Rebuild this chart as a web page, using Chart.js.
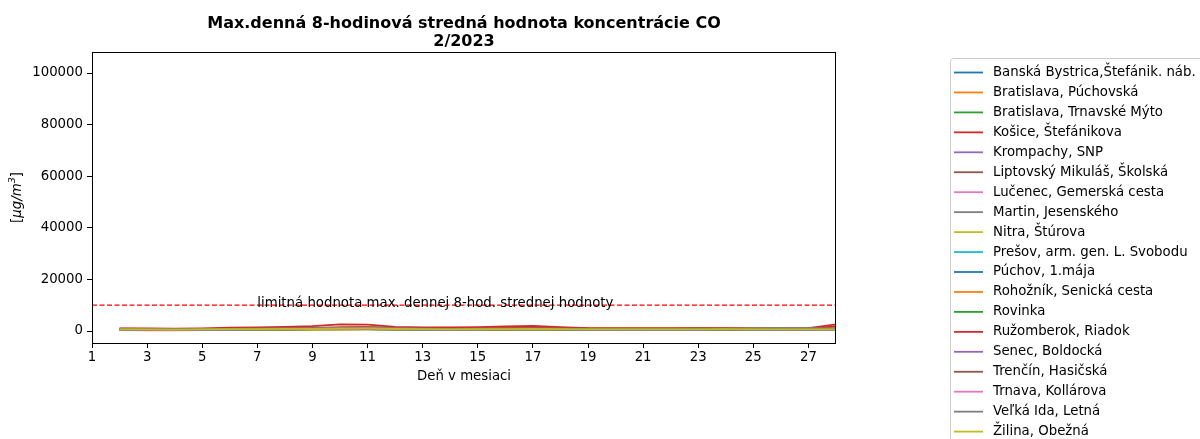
<!DOCTYPE html>
<html><head><meta charset="utf-8">
<script src="https://cdn.jsdelivr.net/npm/chart.js@4.4.1/dist/chart.umd.min.js"></script>
<style>html,body{margin:0;padding:0;background:#fff;overflow:hidden}canvas{display:block}</style>
</head><body><canvas id="c" width="1200" height="439"></canvas>
<script>
const days = [2,3,4,5,6,7,8,9,10,11,12,13,14,15,16,17,18,19,20,21,22,23,24,25,26,27,28];
const stations = [
  "Banská Bystrica,Štefánik. náb.","Bratislava, Púchovská","Bratislava, Trnavské Mýto","Košice, Štefánikova",
  "Krompachy, SNP","Liptovský Mikuláš, Školská","Lučenec, Gemerská cesta","Martin, Jesenského",
  "Nitra, Štúrova","Prešov, arm. gen. L. Svobodu","Púchov, 1.mája","Rohožník, Senická cesta",
  "Rovinka","Ružomberok, Riadok","Senec, Boldocká","Trenčín, Hasičská","Trnava, Kollárova",
  "Veľká Ida, Letná","Žilina, Obežná"];
const colors = ["#1f77b4","#ff7f0e","#2ca02c","#d62728","#9467bd","#8c564b","#e377c2","#7f7f7f","#bcbd22","#17becf",
  "#1f77b4","#ff7f0e","#2ca02c","#d62728","#9467bd","#8c564b","#e377c2","#7f7f7f","#bcbd22"];

const banskaBystrica = [700,650,600,650,700,750,800,850,900,950,850,700,650,600,650,700,750,650,600,600,650,650,700,650,600,650,700];
const bratislavaPuchovska = [800,750,700,750,900,1000,1100,1200,1300,1400,1200,1000,1000,1100,1200,1300,1250,1100,1100,1100,1150,1200,1200,1100,1000,900,1000];
const bratislavaTrnavske = [500,450,400,450,500,550,600,650,700,750,600,500,500,550,600,650,600,500,500,500,550,550,600,550,500,450,500];
const kosice = [1000,1050,900,1000,1300,1400,1600,1900,2600,2500,1600,1400,1400,1500,1800,1950,1500,1100,1000,1000,1050,1100,1000,900,900,1100,2600];
const krompachy = [600,550,500,550,600,650,700,750,800,850,700,600,600,650,650,700,650,600,550,550,600,600,650,600,550,550,600];
const liptovskyMikulas = [700,650,600,700,800,900,1000,1100,1300,1400,1100,900,800,800,900,1000,900,800,700,700,750,800,800,750,700,700,800];
const lucenec = [500,450,450,500,550,600,650,700,750,800,650,550,550,600,650,700,650,550,500,500,550,550,600,550,500,500,550];
const martin = [700,650,600,650,750,850,900,1000,1100,1200,1000,800,750,750,800,850,800,700,700,700,750,800,850,950,1000,1000,900];
const nitra = [400,350,350,400,450,500,550,600,650,700,550,450,450,500,550,600,550,450,400,400,450,450,500,450,400,400,450];
const presov = [500,500,450,500,550,600,650,700,800,850,700,600,550,600,650,700,650,550,500,500,550,550,600,550,500,500,600];
const puchov = [600,550,500,550,650,700,750,800,900,950,800,650,600,650,700,750,700,600,550,550,600,600,650,600,550,550,600];
const rohoznik = [350,300,300,350,400,450,450,500,550,600,500,400,400,400,450,500,450,400,350,350,400,400,450,400,350,350,400];
const rovinka = [400,350,350,400,450,500,550,600,650,650,550,450,450,500,550,550,500,450,400,400,450,450,500,450,400,400,450];
const ruzomberok = [900,850,800,850,950,1050,1150,1250,1400,1500,1200,1000,950,1000,1100,1200,1100,950,900,900,950,950,1000,950,900,950,1800];
const senec = [500,450,450,500,550,600,650,700,750,750,650,550,550,600,600,650,600,500,500,500,550,550,600,550,500,500,550];
const trencin = [650,600,550,600,700,750,850,900,1000,1050,850,700,650,700,750,800,750,650,600,600,650,650,700,650,600,600,700];
const trnava = [600,550,550,600,650,700,750,800,850,900,750,650,600,650,700,750,700,600,600,600,650,650,700,650,600,600,650];
const velkaIda = [800,750,700,750,850,950,1050,1150,1250,1300,1100,900,850,900,950,1000,950,850,800,800,850,900,950,1050,1100,1100,1000];
const zilina = [650,600,550,600,700,750,800,850,950,1000,850,700,650,700,750,800,750,650,600,600,650,650,700,650,600,600,650];

const seriesValues = [banskaBystrica,bratislavaPuchovska,bratislavaTrnavske,kosice,krompachy,liptovskyMikulas,lucenec,martin,
  nitra,presov,puchov,rohoznik,rovinka,ruzomberok,senec,trencin,trnava,velkaIda,zilina];

const xTickValues = [1,3,5,7,9,11,13,15,17,19,21,23,25,27];
const yTickValues = [0,20000,40000,60000,80000,100000];
const limitValue = 10000;
const limitLabel = "limitná hodnota max. dennej 8-hod. strednej hodnoty";
const limitLabelX = 7;
const titleLines = ["Max.denná 8-hodinová stredná hodnota koncentrácie CO","2/2023"];
const xAxisTitle = "Deň v mesiaci";

const FONT = "'DejaVu Sans', sans-serif";
const FS = 13.3;
const N = seriesValues.length;

const datasets = seriesValues.map((vals, i) => ({
  label: stations[i],
  data: days.map((d, k) => ({x: d, y: vals[k]})),
  borderColor: colors[i],
  backgroundColor: colors[i],
  borderWidth: 1.8,
  pointRadius: 0,
  tension: 0,
  fill: false,
  order: N - i
}));
datasets.push({
  label: "_limit",
  data: [{x: 1, y: limitValue}, {x: 28, y: limitValue}],
  borderColor: "#ff0000",
  borderWidth: 1.2,
  borderDash: [5, 2.5],
  pointRadius: 0,
  fill: false,
  order: 0
});

const decor = {
  id: "decor",
  afterDraw(chart) {
    const ctx = chart.ctx, a = chart.chartArea, xs = chart.scales.x, ys = chart.scales.y;
    ctx.save();
    // frame
    ctx.strokeStyle = "#000"; ctx.lineWidth = 1;
    ctx.strokeRect(Math.round(a.left) + 0.5, Math.round(a.top) + 0.5, Math.round(a.right - a.left) - 1, Math.round(a.bottom - a.top));
    // title
    ctx.fillStyle = "#000"; ctx.textAlign = "center"; ctx.textBaseline = "alphabetic";
    ctx.font = "bold 16px " + FONT;
    const cx = (a.left + a.right) / 2;
    ctx.fillText(titleLines[0], cx, 27.5);
    ctx.fillText(titleLines[1], cx, 46);
    // x title
    ctx.font = FS + "px " + FONT;
    ctx.textBaseline = "middle";
    ctx.fillText(xAxisTitle, cx, 377);
    // y title
    ctx.save();
    ctx.translate(18, (a.top + a.bottom) / 2);
    ctx.rotate(-Math.PI / 2);
    const parts = [["[", FS + "px " + FONT, 0], ["μg/m", "italic " + FS + "px " + FONT, 0], ["3", "italic 9.5px " + FONT, -5], ["]", FS + "px " + FONT, 0]];
    let w = 0;
    parts.forEach(p => { ctx.font = p[1]; w += ctx.measureText(p[0]).width; });
    let px = -w / 2;
    ctx.textAlign = "left"; ctx.textBaseline = "middle";
    parts.forEach(p => { ctx.font = p[1]; ctx.fillText(p[0], px, p[2]); px += ctx.measureText(p[0]).width; });
    ctx.restore();
    // limit label
    ctx.font = FS + "px " + FONT; ctx.textAlign = "left"; ctx.textBaseline = "alphabetic";
    ctx.fillText(limitLabel, xs.getPixelForValue(limitLabelX), ys.getPixelForValue(limitValue) + 2);
    // legend
    const lx = 950.5, ly = 58.5;
    ctx.fillStyle = "rgba(255,255,255,0.8)";
    ctx.strokeStyle = "#cccccc"; ctx.lineWidth = 1;
    ctx.beginPath(); ctx.roundRect(lx, ly, 300, 420, 3); ctx.fill(); ctx.stroke();
    ctx.font = FS + "px " + FONT; ctx.textBaseline = "middle"; ctx.textAlign = "left";
    stations.forEach((s, i) => {
      const y = 72.5 + i * 19.95;
      ctx.strokeStyle = colors[i]; ctx.lineWidth = 1.8;
      ctx.beginPath(); ctx.moveTo(954, y); ctx.lineTo(983, y); ctx.stroke();
      ctx.fillStyle = "#000";
      ctx.fillText(s, 993, y);
    });
    ctx.restore();
  }
};

new Chart(document.getElementById("c"), {
  type: "line",
  data: { datasets },
  options: {
    responsive: false, animation: false, devicePixelRatio: 1,
    layout: { padding: { left: 0, top: 52, right: 364, bottom: 0 } },
    plugins: { legend: { display: false }, tooltip: { enabled: false }, title: { display: false } },
    scales: {
      x: {
        type: "linear", min: 1, max: 28,
        afterFit(s) { s.height = 96; },
        afterBuildTicks(s) { s.ticks = xTickValues.map(v => ({ value: v })); },
        grid: { drawOnChartArea: false, drawTicks: true, tickLength: 5, tickColor: "#000", tickWidth: 1 },
        border: { display: false },
        ticks: { color: "#000", font: { family: FONT, size: FS }, padding: 2, maxRotation: 0, autoSkip: false, callback: v => String(v) }
      },
      y: {
        type: "linear", min: -4650, max: 108140,
        afterFit(s) { s.width = 92; },
        afterBuildTicks(s) { s.ticks = yTickValues.map(v => ({ value: v })); },
        grid: { drawOnChartArea: false, drawTicks: true, tickLength: 5, tickColor: "#000", tickWidth: 1 },
        border: { display: false },
        ticks: { color: "#000", font: { family: FONT, size: FS }, padding: 4, autoSkip: false, callback: v => String(v) }
      }
    }
  },
  plugins: [decor]
});
</script>
</body></html>
